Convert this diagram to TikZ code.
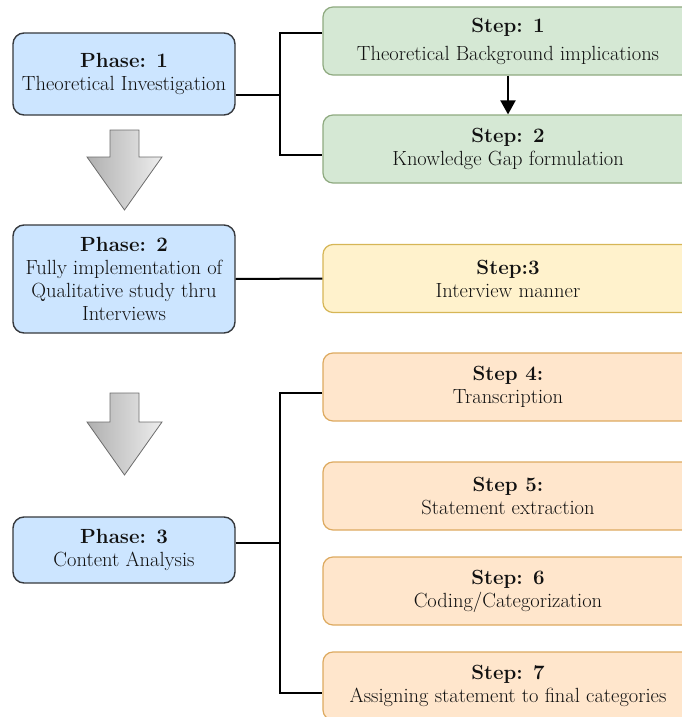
\documentclass[tikz,border=0pt]{standalone}
\usepackage{fontspec}
\usetikzlibrary{arrows.meta}

\definecolor{phasefill}{HTML}{CCE5FF}
\definecolor{phasedraw}{HTML}{36393D}
\definecolor{greenfill}{HTML}{D5E8D4}
\definecolor{greendraw}{HTML}{8FAA80}
\definecolor{yellowfill}{HTML}{FFF2CC}
\definecolor{yellowdraw}{HTML}{D6B656}
\definecolor{orangefill}{HTML}{FFE6CC}
\definecolor{orangedraw}{HTML}{DDAA60}
\definecolor{inktext}{HTML}{111111}

\tikzset{
  boxtext/.style={align=center, inner sep=0pt, text=inktext,
    font=\rmfamily\fontsize{20.5}{23}\selectfont},
  phasebox/.style={boxtext, draw=phasedraw, fill=phasefill, line width=1.4pt,
    rounded corners=11pt, minimum width=222pt},
  stepbox/.style={boxtext, draw=#1draw, fill=#1fill, line width=1.2pt,
    rounded corners=10pt, minimum width=370pt, minimum height=68pt},
  conn/.style={draw=black, line width=2pt},
  bigarrow/.style={draw=gray!85!black, line width=0.8pt,
    left color=gray!62, right color=gray!14},
}

\begin{document}
\begin{tikzpicture}[x=1pt, y=-1pt]
  \useasboundingbox (0,0) rectangle (682,717);
  \begin{scope}
  \clip (0,0) rectangle (682,717);

  % phase column
  \node[phasebox, minimum height=82pt]  (p1) at (124,74)  {\textbf{Phase: 1}\\Theoretical Investigation};
  \node[phasebox, minimum height=108pt] (p2) at (124,279) {\textbf{Phase: 2}\\Fully implementation of\\Qualitative study thru\\Interviews};
  \node[phasebox, minimum height=66pt]  (p3) at (124,550) {\textbf{Phase: 3}\\Content Analysis};

  % step column
  \node[stepbox=green]  (s1) at (508,41)    {\textbf{Step: 1}\\[5pt]Theoretical Background implications};
  \node[stepbox=green]  (s2) at (508,149)   {\textbf{Step: 2}\\Knowledge Gap formulation};
  \node[stepbox=yellow] (s3) at (508,278.5) {\textbf{Step:3}\\Interview manner};
  \node[stepbox=orange] (s4) at (508,387)   {\textbf{Step 4:}\\Transcription};
  \node[stepbox=orange] (s5) at (508,496)   {\textbf{Step 5:}\\Statement extraction};
  \node[stepbox=orange] (s6) at (508,591)   {\textbf{Step: 6}\\Coding/Categorization};
  \node[stepbox=orange] (s7) at (508,686)   {\textbf{Step: 7}\\Assigning statement to final categories};

  % bracket connectors
  \coordinate (t1) at (280,95);
  \coordinate (t3) at (280,543);
  \draw[conn] ([yshift=-21pt]p1.east) -- (t1);
  \draw[conn] ([yshift=8pt]s1.west) -| (t1) |- ([yshift=-6pt]s2.west);
  \draw[conn] (p2.east) -- (s3.west);
  \draw[conn] ([yshift=7pt]p3.east) -- (t3);
  \draw[conn] ([yshift=-6pt]s4.west) -| (t3) |- ([yshift=-7pt]s7.west);

  \draw[conn, -{Triangle[width=15pt,length=14pt]}] (s1.south) -- (s2.north);

  % shaded block arrows between phases
  \draw[bigarrow] (110,130) -- (139,130) -- (139,157) -- (162,157) -- (124.5,210)
    -- (87,157) -- (110,157) -- cycle;
  \draw[bigarrow] (110,393) -- (139,393) -- (139,422) -- (162,422) -- (124.5,475)
    -- (87,422) -- (110,422) -- cycle;
  \end{scope}
\end{tikzpicture}
\end{document}
